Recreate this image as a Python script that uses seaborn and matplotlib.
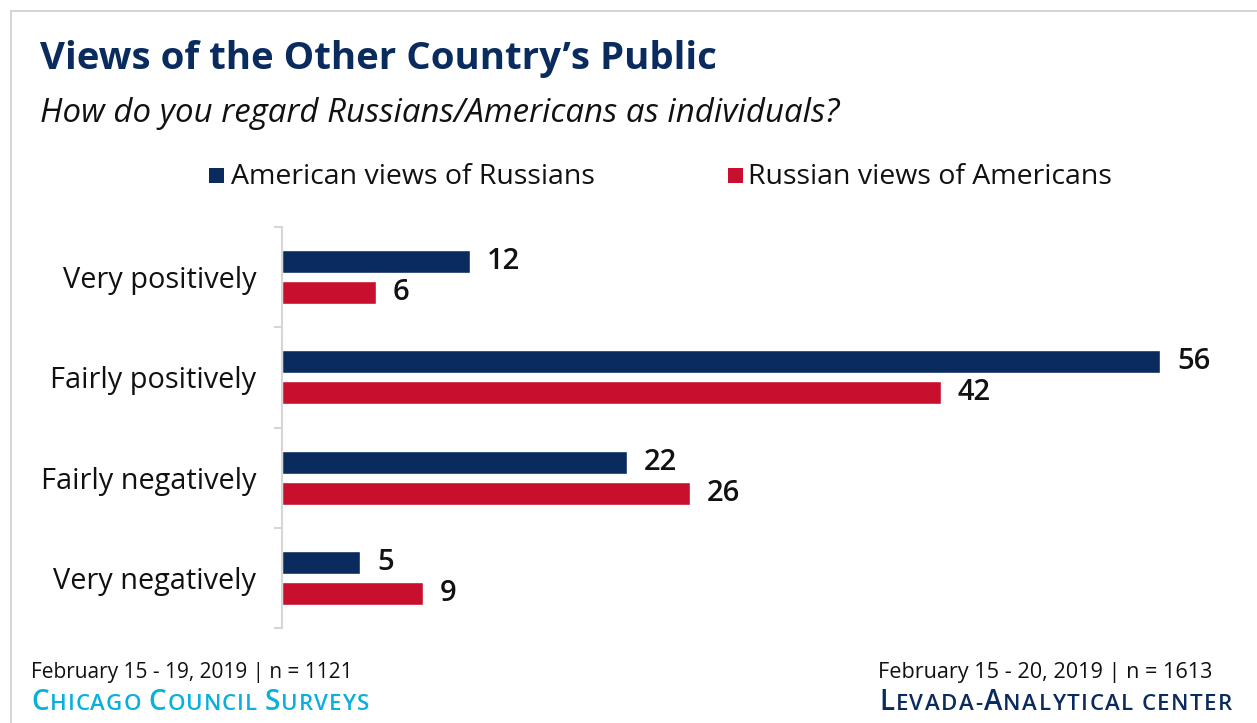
import matplotlib
matplotlib.use("Agg")
import matplotlib.pyplot as plt
from matplotlib.patches import Rectangle
from matplotlib.lines import Line2D
import seaborn as sns
import pandas as pd

# ---------------- data ----------------
categories = ["Very positively", "Fairly positively", "Fairly negatively", "Very negatively"]
american_views = [12, 56, 22, 5]
russian_views = [6, 42, 26, 9]
series_names = ["American views of Russians", "Russian views of Americans"]
title = "Views of the Other Country\u2019s Public"
subtitle = "How do you regard Russians/Americans as individuals?"
footer_left = "February 15 - 19, 2019 | n = 1121"
footer_right = "February 15 - 20, 2019 | n = 1613"
source_left = "Chicago Council Surveys"
source_right = "Levada-Analytical center"

BLUE = "#0a2b5e"
RED = "#c8102e"
CYAN = "#0ab0dc"
GRID = "#d6d6d6"

df = pd.DataFrame({
    "category": categories * 2,
    "value": american_views + russian_views,
    "series": [series_names[0]] * len(categories) + [series_names[1]] * len(categories),
})

sns.set_theme(style="white")
FONT = ["Open Sans", "DejaVu Sans"]
plt.rcParams["font.family"] = FONT

W, H = 1257, 723
fig = plt.figure(figsize=(W / 100, H / 100), dpi=100)
fig.patch.set_facecolor("white")

def fx(px):
    return px / W

def fy(py):
    return 1 - py / H

ax = fig.add_axes([fx(282), fy(628), fx(1223) - fx(282), fy(227) - fy(628)])
sns.barplot(data=df, y="category", x="value", hue="series", order=categories,
            hue_order=series_names, palette=[BLUE, RED], orient="h",
            width=0.62, gap=0.26, saturation=1, legend=False, ax=ax)
ax.set_xlim(0, 60)
ax.set_ylim(3.5, -0.5)
ax.set_xlabel("")
ax.set_ylabel("")
ax.set_xticks([])
ax.set_facecolor("white")
for s in ["top", "right", "bottom"]:
    ax.spines[s].set_visible(False)
ax.spines["left"].set_color(GRID)
ax.spines["left"].set_linewidth(1.5)
ax.set_yticks(range(len(categories)))
ax.set_yticklabels(categories, fontsize=20.8, color="#111111")
ax.tick_params(axis="y", which="major", length=0, pad=18.5)
ax.set_yticks([i - 0.5 for i in range(len(categories) + 1)], minor=True)
ax.tick_params(axis="y", which="minor", length=6, width=1.5, color=GRID, left=True)

for cont in ax.containers:
    ax.bar_label(cont, padding=12, fontsize=21, fontweight="semibold", color="#111111")

# title & subtitle
fig.text(fx(40), fy(69), title, fontsize=27.6, fontweight="bold", color=BLUE, va="baseline")
fig.text(fx(40), fy(122), subtitle, fontsize=23.8, style="italic", color="#111111", va="baseline")

# legend
fig.patches.append(Rectangle((fx(209), fy(183)), fx(15), fy(168) - fy(183), transform=fig.transFigure,
                             facecolor=BLUE, edgecolor="none"))
fig.text(fx(231), fy(184), series_names[0], fontsize=20.5, color="#111111", va="baseline")
fig.patches.append(Rectangle((fx(728), fy(183)), fx(15), fy(168) - fy(183), transform=fig.transFigure,
                             facecolor=RED, edgecolor="none"))
fig.text(fx(748), fy(184), series_names[1], fontsize=20.5, color="#111111", va="baseline")

# frame lines
fig.lines.append(Line2D([fx(11), fx(1257)], [fy(11), fy(11)], transform=fig.transFigure, color=GRID, lw=1.5))
fig.lines.append(Line2D([fx(11), fx(11)], [fy(11), fy(723)], transform=fig.transFigure, color=GRID, lw=1.5))

# footers
fig.text(fx(31), fy(678), footer_left, fontsize=15, color="#111111", va="baseline")
fig.text(fx(878), fy(678), footer_right, fontsize=15.6, color="#111111", va="baseline")

renderer = fig.canvas.get_renderer()

def small_caps(x0, y0, text, color, big, small, gap):
    xpos = x0
    words = text.split(" ")
    for wi, word in enumerate(words):
        runs = []
        for ch in word:
            isbig = ch.isupper()
            if runs and runs[-1][1] == isbig:
                runs[-1][0] += ch
            else:
                runs.append([ch, isbig])
        for chunk, isbig in runs:
            size = big if isbig else small
            for c in chunk:
                t = fig.text(fx(xpos), fy(y0), c.upper(), fontsize=size,
                             color=color, va="baseline", ha="left", fontweight="semibold")
                bb = t.get_window_extent(renderer=renderer)
                xpos = bb.x1 + gap
        if wi < len(words) - 1:
            xpos += small * 100 / 72 * 0.3

small_caps(31, 710, source_left, CYAN, 20, 16, 1.0)
small_caps(879, 710, source_right, BLUE, 20, 16, 1.45)

fig.savefig("out.png", dpi=100, facecolor="white")
